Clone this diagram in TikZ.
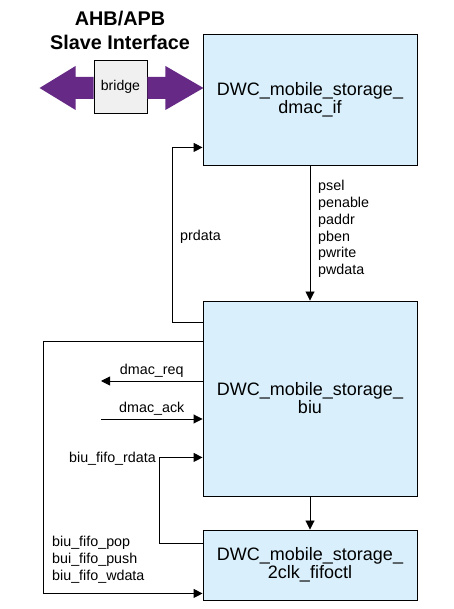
\documentclass[tikz,border=0pt]{standalone}
\usepackage{fontspec}
\setmainfont{Liberation Sans}
\usetikzlibrary{arrows.meta}

\definecolor{boxblue}{RGB}{217,240,252}
\definecolor{bridgegray}{RGB}{240,240,240}
\definecolor{busviolet}{RGB}{102,42,134}

\begin{document}
\begin{tikzpicture}[x = 1pt, y = 1pt, > = {Triangle[length = 9pt, width = 9pt]},
	block/.style = {draw, line width = 0.9pt, fill = boxblue, minimum width = 214pt,
		align = center, inner sep = 0pt, font = \fontsize{18}{18}\selectfont},
	sig/.style = {font = \fontsize{14.3}{16.8}\selectfont, inner sep = 1pt},
	wire/.style = {->, line width = 0.9pt}]

	\useasboundingbox (0, 0) rectangle (453, 609);

	% The three blocks

	\node [block, minimum height = 131pt] (dmacif) at (310, 509.5) {DWC\_mobile\_storage\_\\dmac\_if};
	\node [block, minimum height = 195pt] (biu) at (310, 210.5) {DWC\_mobile\_storage\_\\biu};
	\node [block, minimum height = 70pt] (fifoctl) at (310, 44) {DWC\_mobile\_storage\_\\2clk\_fifoctl};

	% Bridge and the bus arrows

	\node [draw, line width = 0.9pt, fill = bridgegray, minimum size = 53pt, inner sep = 0pt,
		font = \fontsize{14.1}{16}\selectfont] (bridge) at (120.5, 522.5) {bridge};
	\node [font = \bfseries\fontsize{19.8}{24}\selectfont, align = center] (title) at (120, 579) {AHB/APB\\Slave Interface};

	\fill [busviolet] ([yshift = -1.5pt] bridge.west) ++(0, 11) -- ++(-18, 0) -- ++(0, 11)
		-- ++(-36, -22) -- ++(36, -22) -- ++(0, 11) -- ++(18, 0) -- cycle;
	\fill [busviolet] ([yshift = -1.5pt] bridge.east) ++(0, 11) -- ++(18, 0) -- ++(0, 11)
		-- ++(38, -22) -- ++(-38, -22) -- ++(0, 11) -- ++(-18, 0) -- cycle;

	% APB signals between dmac_if and biu

	\draw [wire] (dmacif.south) -- (biu.north);
	\node [sig, anchor = west, align = left] (apbsig) at (317, 380) {psel\\penable\\paddr\\pben\\pwrite\\pwdata};

	\draw [wire] ([yshift = -22pt] biu.north west) -- ++(-30, 0) |- ([yshift = 18pt] dmacif.south west);
	\node [sig, anchor = west] (prdata) at (179, 372) {prdata};

	% DMA handshake

	\coordinate (reqend) at (101, 228);
	\coordinate (ackstart) at (101, 190);
	\draw [wire] (biu.west |- reqend) -- node [sig, above = 2pt] (dmacreq) {dmac\_req} (reqend);
	\draw [wire] (ackstart) -- node [sig, above = 2pt] (dmacack) {dmac\_ack} (biu.west |- ackstart);

	% FIFO signals between biu and fifoctl

	\draw [wire] (biu.south) -- (fifoctl.north);
	\draw [wire] ([yshift = -14pt] fifoctl.north west) -- ++(-43, 0) |- ([yshift = 39pt] biu.south west);
	\node [sig, anchor = east] (rdata) at (157, 150) {biu\_fifo\_rdata};

	\draw [wire] ([yshift = -41pt] biu.north west) -- ++(-159, 0) |- ([yshift = 7pt] fifoctl.south west);
	\node [sig, anchor = west, align = left] (fifosig) at (51, 49) {biu\_fifo\_pop\\bui\_fifo\_push\\biu\_fifo\_wdata};

\end{tikzpicture}
\end{document}
